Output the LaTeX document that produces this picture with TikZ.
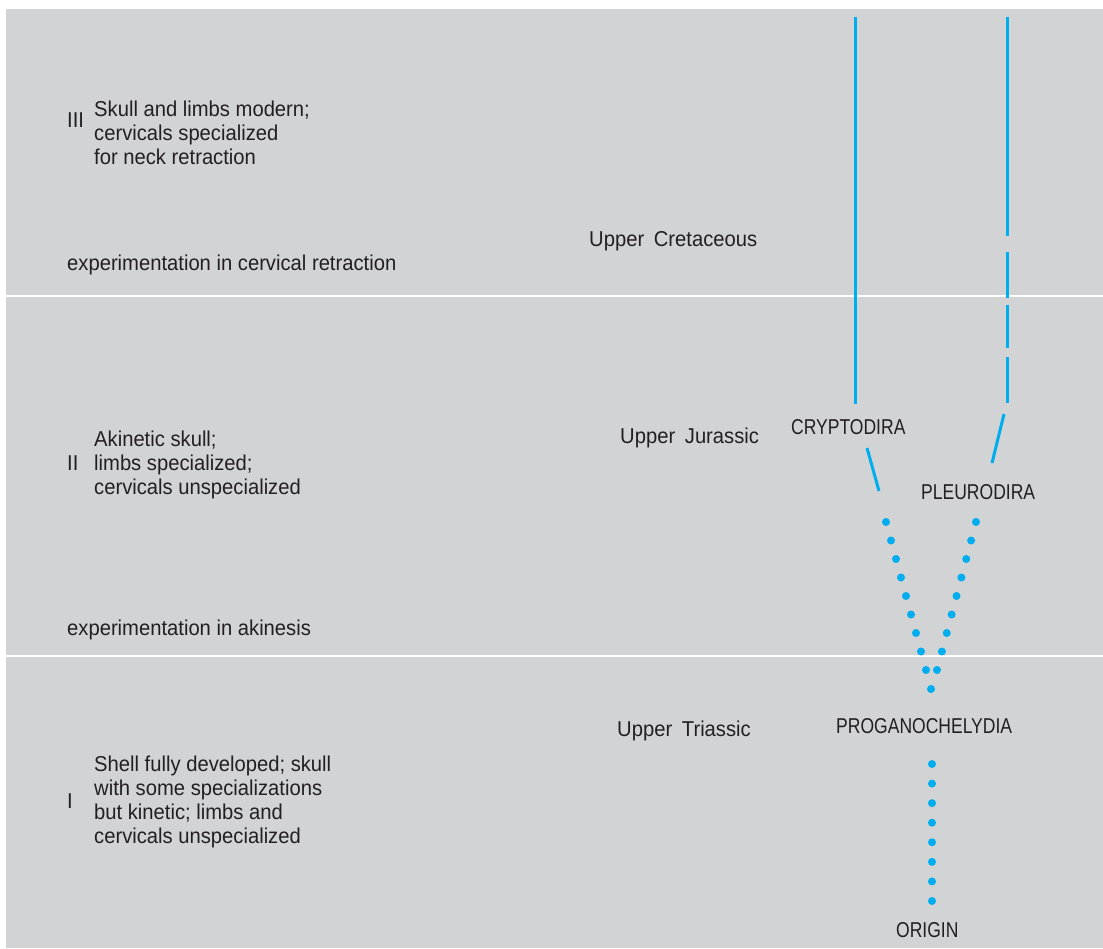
\documentclass[tikz,border=0pt]{standalone}
\usepackage{fontspec}
\setmainfont{Liberation Sans}[FakeStretch=0.94]
\newfontfamily\capsfont{Liberation Sans}[FakeStretch=0.815]
\usetikzlibrary{calc}
\definecolor{bggray}{HTML}{D1D3D4}
\definecolor{lineblue}{HTML}{00AEEF}
\definecolor{inkgray}{HTML}{231F20}
\tikzset{
  txt/.style={anchor=base west, inner sep=0pt, text=inkgray, font=\fontsize{21.5}{24}\selectfont, align=left},
  capslabel/.style={anchor=base west, inner sep=0pt, text=inkgray, font=\capsfont\fontsize{21.5}{24}\selectfont},
  branch/.style={lineblue, line width=3pt},
  sep/.style={white, line width=2.5pt},
  dotfill/.style={fill=lineblue}
}
\begin{document}
\begin{tikzpicture}[x=1pt,y=-1pt]
\useasboundingbox (0,0) rectangle (1103,948);
\fill[bggray] (6,9) rectangle (1103,948);
% era separators
\coordinate (s1l) at (6,296); \coordinate (s1r) at (1103,296);
\coordinate (s2l) at (6,656); \coordinate (s2r) at (1103,656);
\draw[sep] (s1l) -- (s1r);
\draw[sep] (s2l) -- (s2r);

% left texts (multi-line nodes: base = baseline of last line)
\node[txt] (n3) at (67,127) {III};
\node[txt] (t3) at (94,164) {Skull and limbs modern;\\cervicals specialized\\for neck retraction};
\node[txt] (e3) at (67,270) {experimentation in cervical retraction};
\node[txt] (n2) at (67,470) {II};
\node[txt] (t2) at (94,494) {Akinetic skull;\\limbs specialized;\\cervicals unspecialized};
\node[txt] (e2) at (67,635) {experimentation in akinesis};
\node[txt] (n1) at (67,808) {I};
\node[txt] (t1) at (94,843) {Shell fully developed; skull\\with some specializations\\but kinetic; limbs and\\cervicals unspecialized};

% period labels
\node[txt] (pc) at (589,246) {Upper\hspace{0.45em}Cretaceous};
\node[txt] (pj) at (620,443) {Upper\hspace{0.45em}Jurassic};
\node[txt] (pt) at (617,736) {Upper\hspace{0.45em}Triassic};

% taxon labels
\node[capslabel] (crypto) at (791,434) {CRYPTODIRA};
\node[capslabel] (pleuro) at (921,499) {PLEURODIRA};
\node[capslabel] (proga) at (836,733) {PROGANOCHELYDIA};
\node[capslabel] (origin) at (896,937) {ORIGIN};

% cryptodira lineage
\coordinate (ctop) at (855,17); \coordinate (cbot) at (855,404);
\draw[branch] (ctop) -- (cbot);
\coordinate (cd1) at (867,448); \coordinate (cd2) at (879,491);
\draw[branch] (cd1) -- (cd2);

% pleurodira lineage
\coordinate (ptop) at (1007,17); \coordinate (pbot) at (1007,403);
\draw[branch, dash pattern=on 219pt off 16pt on 46pt off 7pt on 43pt off 9pt on 60pt] (ptop) -- (pbot);
\coordinate (pd1) at (1004,414); \coordinate (pd2) at (992,463);
\draw[branch] (pd1) -- (pd2);

% dotted (inferred) lineages
\coordinate (la) at (886,522); \coordinate (lb) at (926,670);
\coordinate (ra) at (976,522); \coordinate (rb) at (937,670);
\coordinate (mid) at (931,689);
\coordinate (oa) at (932,764); \coordinate (ob) at (932,901);
\foreach \i in {0,...,8} {
  \fill[dotfill] ($(la)!\i/8!(lb)$) circle (4pt);
  \fill[dotfill] ($(ra)!\i/8!(rb)$) circle (4pt);
}
\fill[dotfill] (mid) circle (4pt);
\foreach \i in {0,...,7} {
  \fill[dotfill] ($(oa)!\i/7!(ob)$) circle (4pt);
}
\end{tikzpicture}
\end{document}
